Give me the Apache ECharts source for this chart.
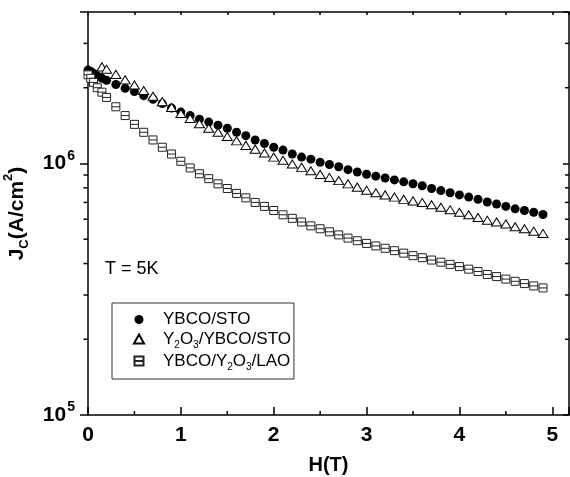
<!DOCTYPE html>
<html><head><meta charset="utf-8">
<script src="https://cdn.jsdelivr.net/npm/echarts@6/dist/echarts.min.js"></script>
<style>html,body{margin:0;padding:0;background:#fff}#c{width:570px;height:477px}</style>
</head><body><div id="c"></div>
<script>
// ---- data ----
const hSTO = [0,0.03,0.06,0.1,0.15,0.2,0.3,0.4,0.5,0.6,0.7,0.8,0.9,1.0,1.1,1.2,1.3,1.4,1.5,1.6,1.7,1.8,1.9,2.0,2.1,2.2,2.3,2.4,2.5,2.6,2.7,2.8,2.9,3.0,3.1,3.2,3.3,3.4,3.5,3.6,3.7,3.8,3.9,4.0,4.1,4.2,4.3,4.4,4.5,4.6,4.7,4.8,4.9];
const jSTO = [2.35e6,2.32e6,2.28e6,2.23e6,2.18e6,2.14e6,2.06e6,1.99e6,1.93e6,1.86e6,1.8e6,1.73e6,1.66e6,1.6e6,1.55e6,1.5e6,1.46e6,1.42e6,1.38e6,1.33e6,1.29e6,1.24e6,1.2e6,1.16e6,1.13e6,1.09e6,1.06e6,1.04e6,1.01e6,9.9e5,9.7e5,9.45e5,9.25e5,9.06e5,8.9e5,8.75e5,8.6e5,8.45e5,8.3e5,8.15e5,7.95e5,7.8e5,7.65e5,7.5e5,7.35e5,7.2e5,7.03e5,6.9e5,6.75e5,6.6e5,6.5e5,6.4e5,6.27e5];
const hY2O3STO = [0.15,0.2,0.3,0.4,0.5,0.6,0.7,0.8,0.9,1.0,1.1,1.2,1.3,1.4,1.5,1.6,1.7,1.8,1.9,2.0,2.1,2.2,2.3,2.4,2.5,2.6,2.7,2.8,2.9,3.0,3.1,3.2,3.3,3.4,3.5,3.6,3.7,3.8,3.9,4.0,4.1,4.2,4.3,4.4,4.5,4.6,4.7,4.8,4.9];
const jY2O3STO = [2.42e6,2.37e6,2.26e6,2.15e6,2.05e6,1.95e6,1.85e6,1.76e6,1.67e6,1.58e6,1.51e6,1.44e6,1.38e6,1.33e6,1.28e6,1.23e6,1.18e6,1.14e6,1.1e6,1.06e6,1.03e6,9.95e5,9.65e5,9.35e5,9.05e5,8.8e5,8.55e5,8.3e5,8.05e5,7.83e5,7.65e5,7.5e5,7.35e5,7.2e5,7.1e5,7.0e5,6.85e5,6.7e5,6.55e5,6.4e5,6.25e5,6.1e5,5.95e5,5.85e5,5.75e5,5.6e5,5.5e5,5.38e5,5.27e5];
const hLAO = [0,0.03,0.06,0.1,0.15,0.2,0.3,0.4,0.5,0.6,0.7,0.8,0.9,1.0,1.1,1.2,1.3,1.4,1.5,1.6,1.7,1.8,1.9,2.0,2.1,2.2,2.3,2.4,2.5,2.6,2.7,2.8,2.9,3.0,3.1,3.2,3.3,3.4,3.5,3.6,3.7,3.8,3.9,4.0,4.1,4.2,4.3,4.4,4.5,4.6,4.7,4.8,4.9];
const jLAO = [2.25e6,2.18e6,2.1e6,2.0e6,1.92e6,1.83e6,1.68e6,1.55e6,1.43e6,1.33e6,1.24e6,1.16e6,1.09e6,1.02e6,9.6e5,9.1e5,8.7e5,8.3e5,7.95e5,7.6e5,7.3e5,7.0e5,6.75e5,6.5e5,6.25e5,6.05e5,5.85e5,5.65e5,5.5e5,5.35e5,5.2e5,5.05e5,4.93e5,4.81e5,4.7e5,4.6e5,4.5e5,4.4e5,4.3e5,4.22e5,4.13e5,4.05e5,3.97e5,3.89e5,3.8e5,3.72e5,3.62e5,3.55e5,3.47e5,3.4e5,3.33e5,3.26e5,3.2e5];
const seriesNames = ['YBCO/STO','Y2O3/YBCO/STO','YBCO/Y2O3/LAO'];
const legendLabels = ['{f|YBCO/STO}','{f|Y}{s|2}{m|O}{s|3}{m|/YBCO/STO}','{f|YBCO/Y}{s|2}{m|O}{s|3}{m|/LAO}'];
const xMin = 0, xMax = 5.18, xInterval = 1;
const xMinorTicks = [0.5,1.5,2.5,3.5,4.5];
const yMin = 1e5, yMax = 4e6;
const yMinorTicks = [2e5,3e5,4e5,5e5,6e5,7e5,8e5,9e5,2e6,3e6];
const annotation = 'T = 5K';

const FONT = 'Liberation Sans';
const chart = echarts.init(document.getElementById('c'), null, {renderer:'canvas'});
const zip = (a,b) => a.map((v,i)=>[v,b[i]]);
const squarePath = 'path://M0,0L10,0L10,10L0,10ZM0,5L10,5';
const trianglePath = 'path://M5,0L10,9L0,9Z';

const tickSeries = {
  type:'custom', silent:true, clip:false, z:5,
  data: yMinorTicks.map(v=>[xMin, v]),
  renderItem(params, api){
    const v = api.value(1);
    const pL = api.coord([xMin, v]);
    const pR = api.coord([xMax, v]);
    return {type:'group', children:[
      {type:'line', shape:{x1:pL[0]-4.5,y1:pL[1],x2:pL[0],y2:pL[1]}, style:{stroke:'#000',lineWidth:1.5}},
      {type:'line', shape:{x1:pR[0]-4,y1:pR[1],x2:pR[0],y2:pR[1]}, style:{stroke:'#000',lineWidth:1.5}}
    ]};
  }
};
const xMinorSeries = {
  type:'custom', silent:true, clip:false, z:5,
  data: xMinorTicks.map(v=>[v, yMin]),
  renderItem(params, api){
    const p = api.coord([api.value(0), yMin]);
    return {type:'line', shape:{x1:p[0],y1:p[1],x2:p[0],y2:p[1]-4}, style:{stroke:'#000',lineWidth:1.5}};
  }
};

const supLabel = v => {
  const e = Math.round(Math.log10(v));
  if (Math.abs(Math.log10(v) - e) > 1e-6) return '';
  return '{b|10}{sup|' + e + '}';
};

chart.setOption({
  animation:false,
  backgroundColor:'#fff',
  grid:{left:88, right:1, top:12, bottom:62, containLabel:false, outerBoundsMode:'none'},
  xAxis:[{
    type:'value', min:xMin, max:xMax, interval:xInterval, position:'bottom',
    axisLine:{show:true, onZero:false, lineStyle:{color:'#000', width:1.5}},
    axisTick:{show:true, inside:true, length:8, lineStyle:{color:'#000', width:1.5}},
    splitLine:{show:false},
    axisLabel:{margin:10, color:'#000', fontFamily:FONT, fontSize:21, fontWeight:'bold',
      formatter: v => (Math.abs(v - Math.round(v))<1e-6 ? String(Math.round(v)) : '')},
    name:'H(T)', nameLocation:'middle', nameGap:40,
    nameTextStyle:{color:'#000', fontFamily:FONT, fontSize:20, fontWeight:'bold'}
  },{
    type:'value', min:xMin, max:xMax, interval:0.5, position:'top',
    axisLine:{show:true, onZero:false, lineStyle:{color:'#000', width:1.5}},
    axisTick:{show:true, inside:true, length:3, lineStyle:{color:'#000', width:1.5}},
    splitLine:{show:false}, axisLabel:{show:false}
  }],
  yAxis:[{
    type:'log', logBase:10, min:yMin, max:yMax, position:'left',
    axisLine:{show:true, onZero:false, lineStyle:{color:'#000', width:1.5}},
    axisTick:{show:true, inside:false, length:8, lineStyle:{color:'#000', width:1.5}},
    splitLine:{show:false},
    axisLabel:{margin:13, color:'#000', formatter: supLabel,
      rich:{
        b:{fontFamily:FONT, fontSize:21, fontWeight:'bold', color:'#000', lineHeight:21, verticalAlign:'middle'},
        sup:{fontFamily:FONT, fontSize:14, fontWeight:'bold', color:'#000', lineHeight:14, verticalAlign:'middle', padding:[0,0,15,1]}
      }},
    name:'J{sub|C}(A/cm{sup|2})', nameLocation:'middle', nameGap:49,
    nameTextStyle:{color:'#000', fontFamily:FONT, fontSize:21, fontWeight:'bold', lineHeight:21,
      rich:{
        sub:{fontFamily:FONT, fontSize:13, fontWeight:'bold', color:'#000', lineHeight:13, padding:[15,0,0,0], verticalAlign:'middle'},
        sup:{fontFamily:FONT, fontSize:13, fontWeight:'bold', color:'#000', lineHeight:13, padding:[0,0,17,0], verticalAlign:'middle'}
      }}
  },{
    type:'log', logBase:10, min:yMin, max:yMax, position:'right',
    axisLine:{show:true, onZero:false, lineStyle:{color:'#000', width:1.5}},
    axisTick:{show:true, inside:true, length:6, lineStyle:{color:'#000', width:1.5}},
    splitLine:{show:false}, axisLabel:{show:false}
  }],
  legend:{
    orient:'vertical', left:112, top:303,
    data: seriesNames,
    itemWidth:10, itemHeight:9, itemGap:0,
    symbolKeepAspect:true,
    padding:[8,3,7,21],
    borderColor:'#333', borderWidth:1, backgroundColor:'#fff',
    formatter: name => legendLabels[seriesNames.indexOf(name)],
    textStyle:{color:'#000', fontFamily:FONT, fontSize:17,
      rich:{
        f:{fontFamily:FONT, fontSize:17, color:'#000', lineHeight:17, verticalAlign:'middle', padding:[0,0,0,14]},
        m:{fontFamily:FONT, fontSize:17, color:'#000', lineHeight:17, verticalAlign:'middle'},
        s:{fontFamily:FONT, fontSize:10, color:'#000', lineHeight:10, padding:[12,0,0,0], verticalAlign:'middle'}
      }}
  },
  graphic:[{type:'text', left:105, top:260, style:{text:annotation, fontFamily:FONT, fontSize:18, fill:'#000'}}],
  series:[
    {name:seriesNames[0], type:'scatter', data:zip(hSTO,jSTO), symbol:'circle', symbolSize:9,
      itemStyle:{color:'#000', opacity:1}, z:2},
    {name:seriesNames[1], type:'scatter', data:zip(hY2O3STO,jY2O3STO), symbol:trianglePath, symbolSize:[10,9], symbolKeepAspect:true,
      itemStyle:{color:'#fff', borderColor:'#000', borderWidth:1, opacity:1}, z:3},
    {name:seriesNames[2], type:'scatter', data:zip(hLAO,jLAO), symbol:squarePath, symbolSize:8, symbolKeepAspect:true,
      itemStyle:{color:'#fff', borderColor:'#222', borderWidth:1, opacity:1}, z:4},
    tickSeries, xMinorSeries
  ]
});
</script></body></html>
